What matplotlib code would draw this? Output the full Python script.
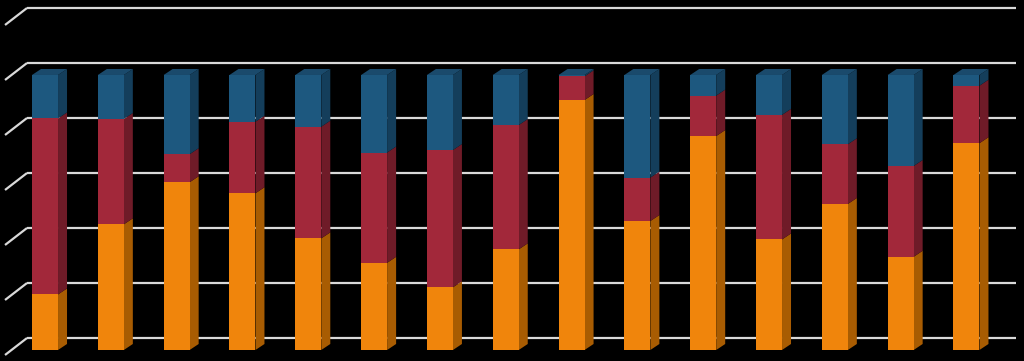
import numpy as np
import matplotlib
matplotlib.use('Agg')
import matplotlib.pyplot as plt
from matplotlib.patches import Polygon

# 100% stacked shares per column (orange / red / blue)
orange = [20.2, 45.7, 61.0, 57.0, 40.6, 31.7, 22.8, 36.6, 90.9, 46.9, 77.8, 40.2, 53.1, 33.9, 75.2]
red = [64.0, 38.3, 10.2, 26.0, 40.6, 40.1, 49.9, 45.2, 8.6, 15.8, 14.7, 45.3, 21.7, 33.0, 20.9]
blue = [15.8, 16.0, 28.8, 17.0, 18.8, 28.2, 27.3, 18.2, 0.5, 37.3, 7.5, 14.5, 25.2, 33.1, 3.9]
grid_levels = [0, 20, 40, 60, 80, 100, 120]

series = [orange, red, blue]
face_cols = ['#F0850C', '#A2283A', '#1D587F']
side_cols = ['#A85C02', '#6F1B28', '#143E5B']
top_col = '#1A4A6C'

fig = plt.figure(figsize=(10.24, 3.61), dpi=100, facecolor='black')
ax = fig.add_axes([0, 0, 1, 1])
ax.set_facecolor('black')
ax.set_xlim(-0.684, 14.874)
ax.set_ylim(-4.0, 127.27)
ax.axis('off')

# 3D look: pixel offsets converted to data units
px_x = 65.82   # px per category
px_y = 2.75    # px per percent
w = 26 / px_x
bdx, bdy = 9 / px_x, 6 / px_y            # bar depth
wall_dy = 12 / px_y                      # back wall vs bar front
wall_left = (27 - 45) / px_x
floor_left = (5 - 45) / px_x
right_end = (1016 - 45) / px_x

# back-wall gridlines and their slanted side-wall parts
for v in grid_levels:
    yb = v + wall_dy
    ax.plot([wall_left, right_end], [yb, yb], color='#D9D9D9', lw=1.6, zorder=1,
            solid_capstyle='butt')
    ax.plot([floor_left, wall_left], [yb - 17 / px_y, yb], color='#D9D9D9', lw=1.6,
            zorder=1, solid_capstyle='butt')

x = np.arange(len(orange))
bottom = np.zeros(len(orange))
for vals, fc, sc in zip(series, face_cols, side_cols):
    vals = np.array(vals)
    ax.bar(x, vals, bottom=bottom, width=w, color=fc, linewidth=0, zorder=3)
    for xi, b, h in zip(x, bottom, vals):
        xr = xi + w / 2
        side = Polygon([(xr, b), (xr + bdx, b + bdy), (xr + bdx, b + h + bdy), (xr, b + h)],
                       closed=True, facecolor=sc, edgecolor='none', zorder=2.9)
        ax.add_patch(side)
    bottom = bottom + vals

for xi, t in zip(x, bottom):
    xl, xr = xi - w / 2, xi + w / 2
    top = Polygon([(xl, t), (xl + bdx, t + bdy), (xr + bdx, t + bdy), (xr, t)],
                  closed=True, facecolor=top_col, edgecolor='none', zorder=2.9)
    ax.add_patch(top)

fig.savefig('out.png', dpi=100, facecolor='black')
